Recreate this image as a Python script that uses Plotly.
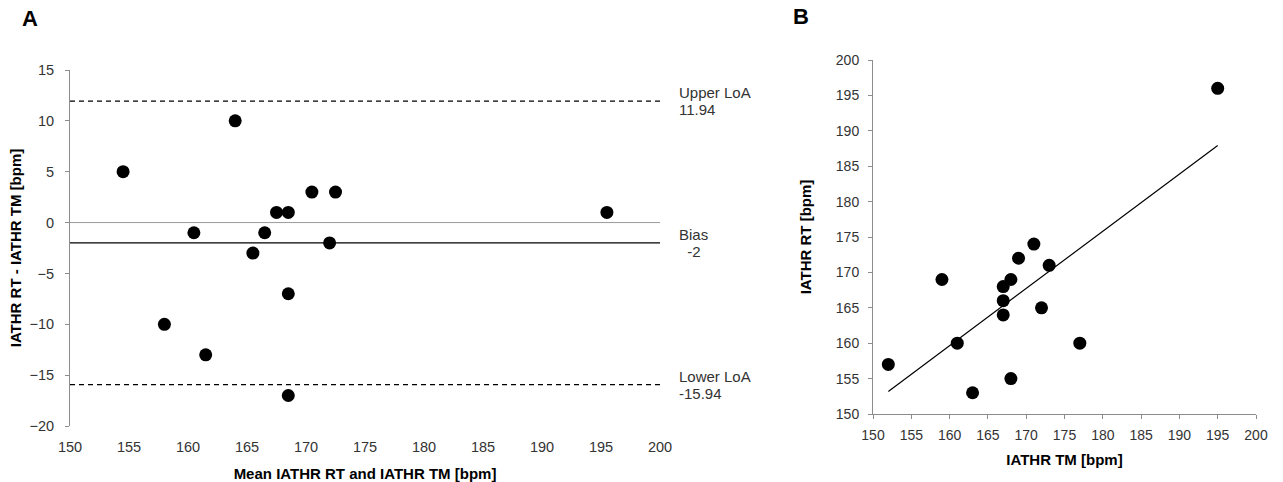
import plotly.graph_objects as go
import numpy as np

# ---- Data ----
# Panel A: Bland-Altman
mean_rt_tm = [154.5, 158, 160.5, 161.5, 164, 165.5, 166.5, 167.5, 168.5, 168.5, 168.5, 170.5, 172, 172.5, 195.5]
diff_rt_tm = [5, -10, -1, -13, 10, -3, -1, 1, 1, -7, -17, 3, -2, 3, 1]
bias = -2
upper_loa = 11.94
lower_loa = -15.94
x_range_a = [150, 200]

# Panel B: RT vs TM
iathr_tm = [152, 159, 161, 163, 167, 167, 167, 168, 168, 169, 171, 172, 173, 177, 195]
iathr_rt = [157, 169, 160, 153, 168, 166, 164, 169, 155, 172, 174, 165, 171, 160, 196]

W, H = 1283, 482
FONT = "Liberation Sans, Arial, sans-serif"
TICKC = "#333333"
AXC = "#8c8c8c"

def px_x(p):
    return p / W

def px_y(p):
    return (H - p) / H

fig = go.Figure()

# Panel A lines
fig.add_trace(go.Scatter(x=x_range_a, y=[0, 0], mode="lines",
                         line=dict(color="#9a9a9a", width=1), xaxis="x", yaxis="y",
                         showlegend=False, hoverinfo="skip"))
fig.add_trace(go.Scatter(x=x_range_a, y=[upper_loa, upper_loa], mode="lines",
                         line=dict(color="black", width=1.2, dash="5px,4px"), xaxis="x", yaxis="y",
                         showlegend=False, hoverinfo="skip"))
fig.add_trace(go.Scatter(x=x_range_a, y=[lower_loa, lower_loa], mode="lines",
                         line=dict(color="black", width=1.2, dash="5px,4px"), xaxis="x", yaxis="y",
                         showlegend=False, hoverinfo="skip"))
fig.add_trace(go.Scatter(x=x_range_a, y=[bias, bias], mode="lines",
                         line=dict(color="black", width=1.3), xaxis="x", yaxis="y",
                         showlegend=False, hoverinfo="skip"))
fig.add_trace(go.Scatter(x=mean_rt_tm, y=diff_rt_tm, mode="markers",
                         marker=dict(color="black", size=13), xaxis="x", yaxis="y",
                         showlegend=False))

# Panel B
slope, intercept = np.polyfit(iathr_tm, iathr_rt, 1)
fit_x = [min(iathr_tm), max(iathr_tm)]
fit_y = [slope * v + intercept for v in fit_x]
fig.add_trace(go.Scatter(x=fit_x, y=fit_y, mode="lines",
                         line=dict(color="black", width=1.2), xaxis="x2", yaxis="y2",
                         showlegend=False, hoverinfo="skip"))
fig.add_trace(go.Scatter(x=iathr_tm, y=iathr_rt, mode="markers",
                         marker=dict(color="black", size=13), xaxis="x2", yaxis="y2",
                         showlegend=False))

tickfont_a = dict(family=FONT, size=14.5, color=TICKC)
tickfont_b = dict(family=FONT, size=14, color=TICKC)
titlefont = dict(family=FONT, size=15, color="black", weight="bold")

fig.update_layout(
    width=W, height=H,
    margin=dict(l=0, r=0, t=0, b=0),
    paper_bgcolor="white", plot_bgcolor="white",
    font=dict(family=FONT),
    xaxis=dict(domain=[px_x(70), px_x(660)], range=[150, 200], dtick=5, tick0=150,
               showline=False, ticks="", showgrid=False, zeroline=False, automargin=False,
               tickfont=tickfont_a, anchor="y", ticklabelstandoff=10,
               title=dict(text="<b>Mean IATHR RT and IATHR TM [bpm]</b>", font=titlefont, standoff=14)),
    yaxis=dict(domain=[px_y(426), px_y(70)], range=[-20, 15], dtick=5,
               showline=True, linecolor=AXC, linewidth=1, ticks="outside", ticklen=4,
               tickcolor=AXC, showgrid=False, zeroline=False, tickfont=tickfont_a, anchor="x",
               automargin=False, ticklabelstandoff=8,
               title=dict(text="<b>IATHR RT - IATHR TM [bpm]</b>", font=titlefont, standoff=4)),
    xaxis2=dict(domain=[px_x(873), px_x(1256)], range=[150, 200], dtick=5,
                showline=True, linecolor=AXC, linewidth=1, ticks="outside", ticklen=4,
                tickcolor=AXC, showgrid=False, zeroline=False, tickfont=tickfont_b, anchor="y2",
                automargin=False, ticklabelstandoff=4,
                title=dict(text="<b>IATHR TM [bpm]</b>", font=titlefont, standoff=12)),
    yaxis2=dict(domain=[px_y(414), px_y(60)], range=[150, 200], dtick=5,
                showline=True, linecolor=AXC, linewidth=1, ticks="outside", ticklen=4,
                tickcolor=AXC, showgrid=False, zeroline=False, tickfont=tickfont_b, anchor="x2",
                automargin=False, ticklabelstandoff=6,
                title=dict(text="<b>IATHR RT [bpm]</b>", font=titlefont, standoff=20)),
)

annfont = dict(family=FONT, size=15, color=TICKC)
labels = [("Upper LoA", f"{upper_loa:.2f}", upper_loa),
          ("Bias", "&nbsp;&nbsp;" + f"{bias}", bias),
          ("Lower LoA", f"{lower_loa:.2f}", lower_loa)]
for top, bottom, yv in labels:
    fig.add_annotation(x=200, y=yv, xref="x", yref="y", xanchor="left", yanchor="middle",
                       xshift=17, yshift=8.5, align="left", showarrow=False, font=annfont, text=top)
    fig.add_annotation(x=200, y=yv, xref="x", yref="y", xanchor="left", yanchor="middle",
                       xshift=17, yshift=-8.5, align="left", showarrow=False, font=annfont, text=bottom)

fig.add_annotation(x=px_x(20), y=px_y(19), xref="paper", yref="paper", xanchor="left", yanchor="middle",
                   showarrow=False, text="<b>A</b>", font=dict(family=FONT, size=22, color="black"))
fig.add_annotation(x=px_x(791), y=px_y(17), xref="paper", yref="paper", xanchor="left", yanchor="middle",
                   showarrow=False, text="<b>B</b>", font=dict(family=FONT, size=22, color="black"))

fig.write_html("out.html", config={"displayModeBar": False},
               post_script="document.body.style.margin='0';document.body.style.overflow='hidden';")
